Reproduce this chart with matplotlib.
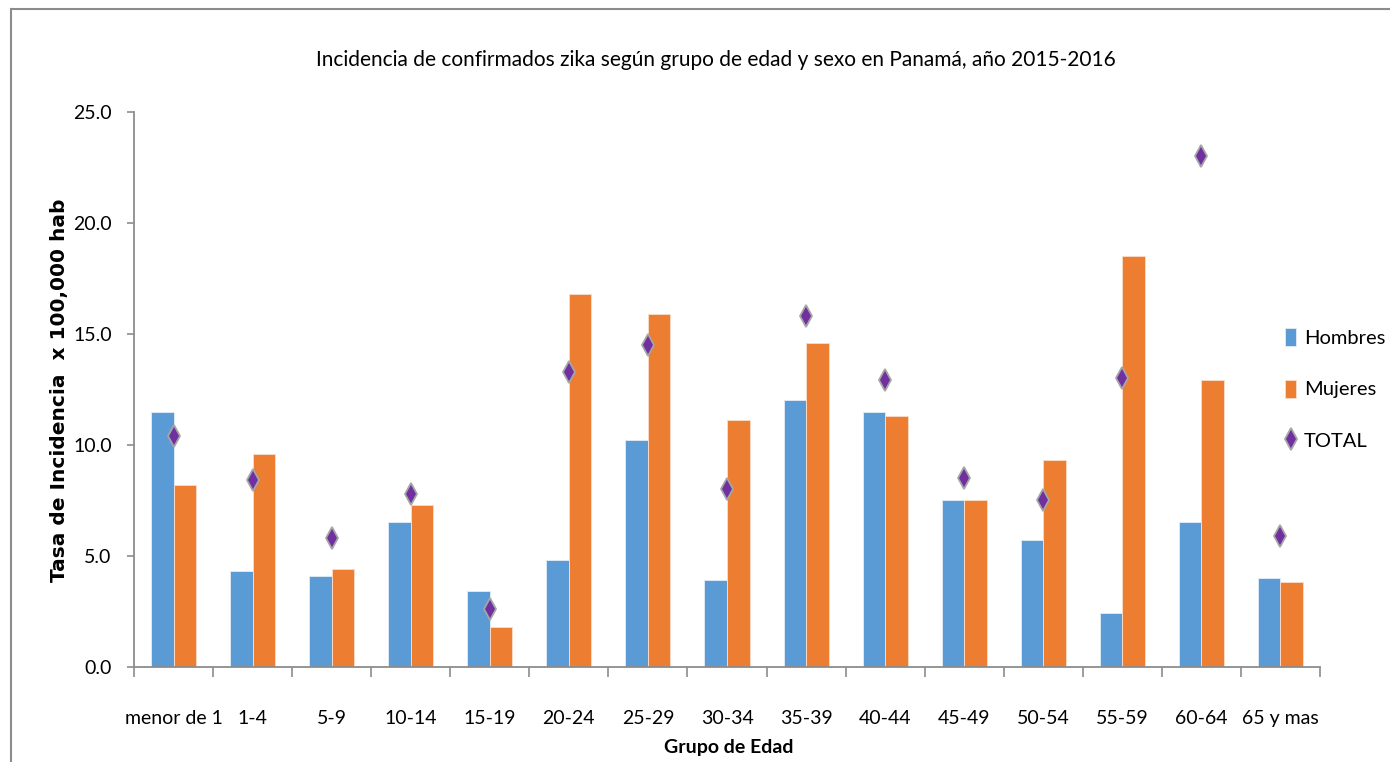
import matplotlib.pyplot as plt
import numpy as np
from matplotlib.lines import Line2D

# Data
grupos = ["menor de 1", "1-4", "5-9", "10-14", "15-19", "20-24", "25-29", "30-34",
          "35-39", "40-44", "45-49", "50-54", "55-59", "60-64", "65 y mas"]
hombres = [11.5, 4.3, 4.1, 6.5, 3.4, 4.8, 10.2, 3.9, 12.0, 11.5, 7.5, 5.7, 2.4, 6.5, 4.0]
mujeres = [8.2, 9.6, 4.4, 7.3, 1.8, 16.8, 15.9, 11.1, 14.6, 11.3, 7.5, 9.3, 18.5, 12.9, 3.8]
total = [10.4, 8.4, 5.8, 7.8, 2.6, 13.3, 14.5, 8.0, 15.8, 12.9, 8.5, 7.5, 13.0, 23.0, 5.9]

plt.rcParams['font.family'] = ['Lato', 'DejaVu Sans']

W, H = 1390, 762
fig = plt.figure(figsize=(W / 100, H / 100), dpi=100)
ax = fig.add_axes([134 / W, 1 - 666.7 / H, (1320 - 134) / W, (666.7 - 112) / H])

x = np.arange(len(grupos))
bw = 0.285
b1 = ax.bar(x - bw / 2, hombres, bw, color="#5B9BD5", edgecolor="#DCE9F6", linewidth=0.7, label="Hombres")
b2 = ax.bar(x + bw / 2, mujeres, bw, color="#ED7D31", edgecolor="#FAD9C4", linewidth=0.7, label="Mujeres")
p1, = ax.plot(x, total, linestyle="none", marker="d", markersize=11, markerfacecolor="#7030A0",
              markeredgecolor="#A6A6A6", markeredgewidth=1.3, label="TOTAL")

ax.set_xlim(-0.5, len(grupos) - 0.5)
ax.set_ylim(0, 25)
ax.set_yticks(np.arange(0, 26, 5))
ax.set_yticklabels([f"{v:.1f}" for v in np.arange(0, 26, 5)], fontsize=14)
ax.set_xticks(x)
ax.set_xticklabels(grupos, fontsize=14)
ax.set_xticks(np.arange(-0.5, len(grupos)), minor=True)
ax.tick_params(axis="x", which="major", length=0, pad=31)
ax.tick_params(axis="x", which="minor", length=7, width=1.2, color="#8C8C8C")
ax.tick_params(axis="y", length=5, width=1.2, color="#8C8C8C", pad=11)

for s in ["top", "right"]:
    ax.spines[s].set_visible(False)
for s in ["left", "bottom"]:
    ax.spines[s].set_color("#8C8C8C")
    ax.spines[s].set_linewidth(1.3)

fig.text(716 / W, 1 - 60 / H,
         "Incidencia de confirmados zika según grupo de edad y sexo en Panamá, año 2015-2016",
         ha="center", va="center", fontsize=15)
fig.text(729 / W, 1 - 748 / H, "Grupo de Edad", ha="center", va="center",
         fontsize=14, fontweight="bold")
fig.text(60 / W, 1 - 390 / H, "Tasa de Incidencia  x 100,000 hab", ha="center", va="center",
         rotation=90, fontsize=14.5, fontweight="bold", family="DejaVu Sans")

ax.legend([b1, b2, p1], ["Hombres", "Mujeres", "TOTAL"],
          loc="center left", bbox_to_anchor=(1285 / W, 1 - 389 / H),
          bbox_transform=fig.transFigure, frameon=False, fontsize=14.5,
          labelspacing=1.6, handlelength=0.55, handleheight=1.0, handletextpad=0.4,
          borderpad=0, borderaxespad=0)

# outer chart frame
fig.add_artist(Line2D([11 / W, 11 / W], [0, 1 - 9 / H], color="#8C8C8C", lw=1.5))
fig.add_artist(Line2D([11 / W, 1], [1 - 9 / H, 1 - 9 / H], color="#8C8C8C", lw=1.5))

fig.savefig("out.png", dpi=100)
